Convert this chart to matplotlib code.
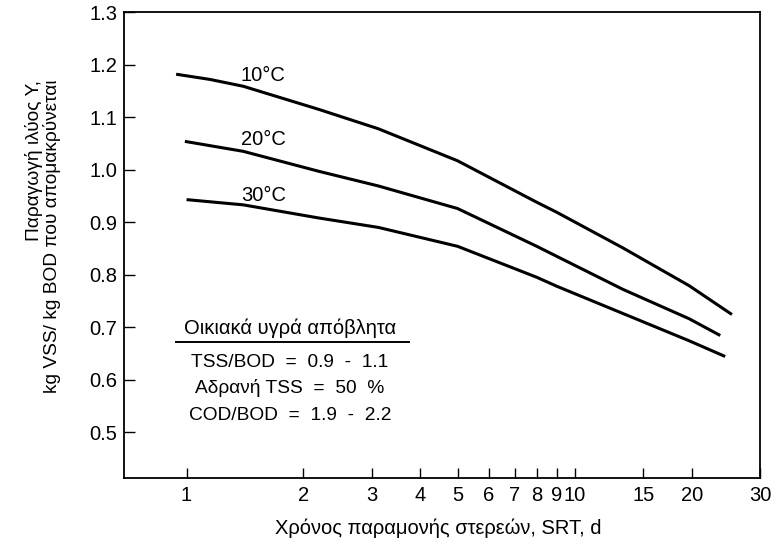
import matplotlib
matplotlib.use("Agg")
import matplotlib.pyplot as plt
from matplotlib.lines import Line2D

plt.rcParams['font.family'] = ['Liberation Sans', 'DejaVu Sans']

# ---- data ----
srt_10 = [0.94, 1.15, 1.40, 2.19, 3.12, 4.99, 7.98, 8.98, 13.3, 19.7, 25.4]
y_10 = [1.182, 1.172, 1.159, 1.115, 1.078, 1.017, 0.938, 0.919, 0.851, 0.779, 0.724]

srt_20 = [0.99, 1.40, 2.19, 3.12, 4.99, 7.98, 8.98, 13.3, 19.7, 23.7]
y_20 = [1.054, 1.035, 0.997, 0.969, 0.926, 0.854, 0.835, 0.772, 0.716, 0.684]

srt_30 = [1.00, 1.40, 2.19, 3.12, 4.99, 7.98, 8.98, 13.3, 19.7, 24.4]
y_30 = [0.943, 0.933, 0.908, 0.890, 0.854, 0.795, 0.778, 0.726, 0.674, 0.644]

curve_labels = ["10°C", "20°C", "30°C"]

x_ticks = [1, 2, 3, 4, 5, 6, 7, 8, 9, 10, 15, 20, 30]
x_ticklabels = ["1", "2", "3", "4", "5", "6", "7", "8", "9", "10", "15", "20", "30"]
y_ticks = [0.5, 0.6, 0.7, 0.8, 0.9, 1.0, 1.1, 1.2, 1.3]
y_ticklabels = ["0.5", "0.6", "0.7", "0.8", "0.9", "1.0", "1.1", "1.2", "1.3"]

box_title = "Οικιακά υγρά απόβλητα"
box_lines = ["TSS/BOD  =  0.9  -  1.1", "Αδρανή TSS  =  50  %", "COD/BOD  =  1.9  -  2.2"]

xlabel = "Χρόνος παραμονής στερεών, SRT, d"
ylabel = "Παραγωγή ιλύος Y,\nkg VSS/ kg BOD που απομακρύνεται"

# ---- figure ----
fig = plt.figure(figsize=(7.75, 5.42), dpi=100)
ax = fig.add_axes([124 / 775, 1 - 477.7 / 542, 636 / 775, 465.4 / 542])

lw = 2.2
for xs, ys in [(srt_10, y_10), (srt_20, y_20), (srt_30, y_30)]:
    ax.plot(xs, ys, color='black', lw=lw, solid_capstyle='butt', solid_joinstyle='round')

ax.set_xscale('log')
ax.set_xlim(0.69, 30)
ax.set_ylim(0.413, 1.3)

ax.set_xticks(x_ticks)
ax.set_xticklabels(x_ticklabels)
ax.xaxis.set_minor_locator(matplotlib.ticker.NullLocator())
ax.set_yticks(y_ticks)
ax.set_yticklabels(y_ticklabels)

ax.tick_params(axis='both', direction='in', labelsize=14.5, width=1.0, color='black')
ax.tick_params(axis='x', length=7, pad=6)
ax.tick_params(axis='y', length=8, pad=5)

for sp in ax.spines.values():
    sp.set_linewidth(1.3)
    sp.set_color('black')

# curve labels
label_pos = [(0.219, 0.865), (0.219, 0.726), (0.219, 0.606)]
for txt, (px, py) in zip(curve_labels, label_pos):
    ax.text(px, py, txt, transform=ax.transAxes, ha='center', va='center', fontsize=14.5)

# info box
ax.text(0.261, 0.322, box_title, transform=ax.transAxes, ha='center', va='center', fontsize=14.5)
ax.add_line(Line2D([0.082, 0.4485], [0.2916, 0.2916], transform=ax.transAxes,
                   color='black', lw=1.4))
for txt, py in zip(box_lines, [0.2465, 0.1927, 0.1347]):
    ax.text(0.261, py, txt, transform=ax.transAxes, ha='center', va='center', fontsize=13.8)

# axis labels
ax.set_xlabel(xlabel, fontsize=14.5, va='center')
ax.xaxis.set_label_coords(0.494, -0.108)
ax.set_ylabel(ylabel, fontsize=13.8, va='center', ha='center', multialignment='right',
              linespacing=1.0)
ax.yaxis.set_label_coords(-0.128, 0.518)

fig.savefig("out.png", dpi=100)
